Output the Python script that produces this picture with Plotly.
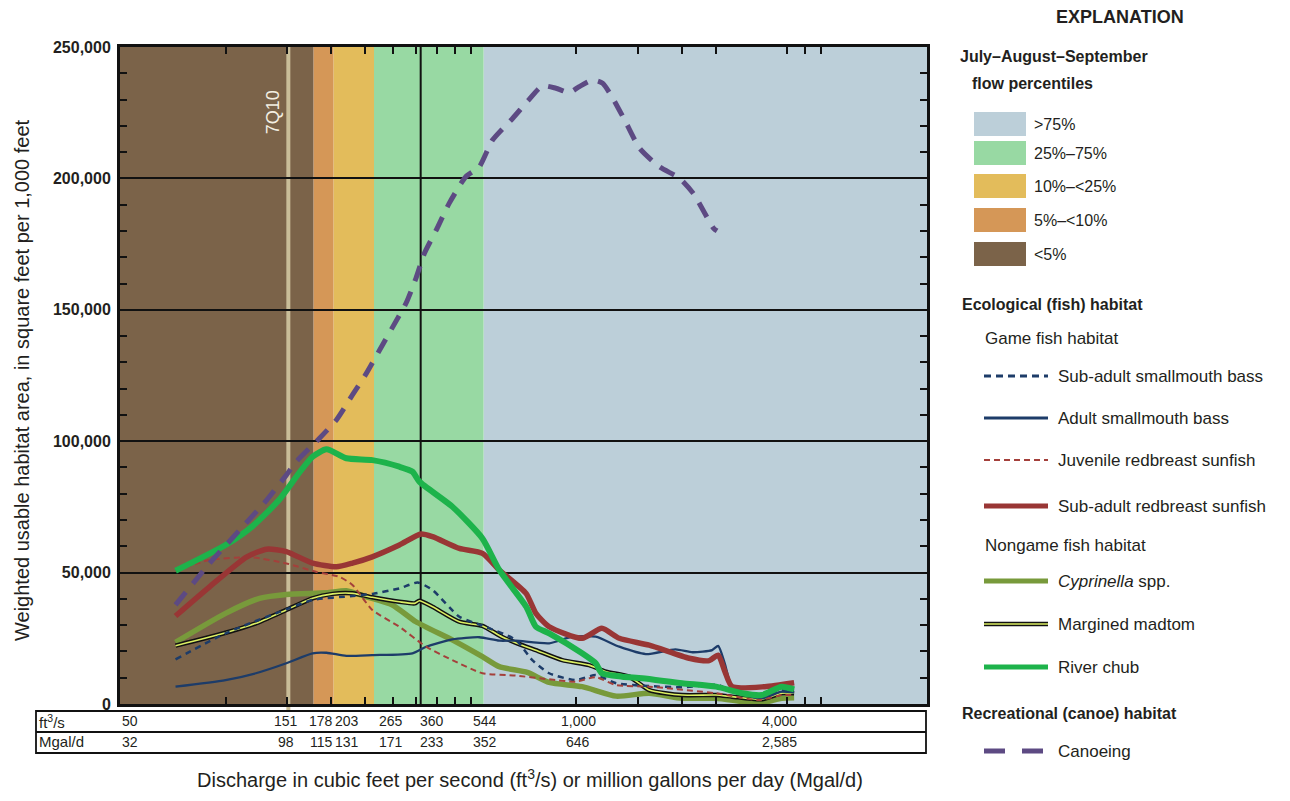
import math
import plotly.graph_objects as go

# ---------------- data ----------------
# flow-percentile bands (discharge, ft3/s)
band_names = [">75%", "25%\u201375%", "10%\u2013<25%", "5%\u2013<10%", "<5%"]
band_lo = [544, 265, 203, 178, 50]
band_hi = [10000, 544, 265, 203, 178]
band_colors = ["#bccfd9", "#98d9a3", "#e3bc5b", "#d59757", "#7b6349"]

q7q10 = 151
q_median_line = 360

table_cfs = [50, 151, 178, 203, 265, 360, 544, 1000, 4000]
table_cfs_lbl = ["50", "151", "178", "203", "265", "360", "544", "1,000", "4,000"]
table_mgd_lbl = ["32", "98", "115", "131", "171", "233", "352", "646", "2,585"]

x_tickvals = [100, 150, 200, 250, 300, 350, 400, 450, 500, 1000, 1500, 2000, 2500, 4000, 4500, 5000]
y_tickvals = [0, 50000, 100000, 150000, 200000, 250000]
y_ticktext = ["0", "50,000", "100,000", "150,000", "200,000", "250,000"]

# habitat series (discharge ft3/s, weighted usable area)
chub_q = [72, 100, 119, 142, 162, 177, 194, 221, 262, 313, 341, 357, 443, 540, 603, 720, 767, 837,
          1039, 1136, 1183, 1352, 1542, 2003, 2505, 2970, 3380, 3850, 4180]
chub_v = [50700, 60500, 67500, 77600, 87900, 94100, 96900, 93500, 92800, 90300, 88400, 84600, 75100,
          63000, 51000, 37000, 29400, 26900, 19300, 15500, 11700, 10400, 9800, 7900, 6600, 4100, 3400,
          6600, 5600]

srb_q = [72, 90, 115, 131, 149, 177, 207, 230, 262, 313, 361, 389, 464, 540, 603, 719, 767, 837,
         1039, 1183, 1326, 1614, 2099, 2393, 2538, 2650, 2780, 3450, 4180]
srb_v = [33500, 44600, 56000, 58900, 58000, 53600, 52200, 53600, 56000, 60500, 64700, 63700, 59200,
         57300, 51000, 42100, 34500, 29400, 25000, 28800, 25000, 22400, 17400, 16500, 18600, 12500,
         6600, 6600, 8100]

asmb_q = [72, 100, 122, 149, 177, 194, 221, 262, 341, 373, 443, 529, 603, 672, 837, 975, 1136, 1326,
          1578, 1917, 2146, 2440, 2538, 2650, 2780, 3380, 3850, 4180]
asmb_v = [6600, 9100, 11700, 15500, 19300, 19500, 18300, 18600, 19300, 21800, 24600, 25400, 24100,
          24100, 23100, 25600, 25600, 21800, 19000, 20800, 19700, 20500, 22100, 15500, 6600, 2200,
          4700, 4300]

ssmb_q = [72, 100, 149, 177, 230, 262, 313, 353, 389, 464, 540, 672, 749, 837, 997, 1136, 1300, 1614,
          2003, 2538, 2780, 3380, 3850, 4180]
ssmb_v = [17000, 26900, 36000, 39600, 41100, 41900, 44000, 46200, 43400, 33200, 29800, 24400, 16700,
          11700, 9100, 11000, 7900, 6800, 6400, 7200, 4700, 2200, 5300, 5300]

jrb_q = [72, 90, 119, 149, 181, 211, 230, 262, 313, 373, 443, 540, 672, 837, 997, 1136, 1300, 1614,
         2500, 3322, 3850, 4180]
jrb_v = [50700, 54800, 55800, 53500, 50300, 48400, 45300, 35800, 29400, 21800, 16700, 11700, 10800,
         9400, 8500, 10200, 7200, 6600, 4100, 1500, 3400, 3400]

cyp_q = [72, 100, 125, 149, 194, 221, 252, 299, 349, 443, 540, 603, 725, 837, 1039, 1300, 1614, 2003,
         2500, 3322, 3850, 4180]
cyp_v = [23500, 34500, 40200, 41700, 42300, 43100, 40800, 37700, 31300, 24400, 18000, 14200, 12000,
         8200, 6600, 3000, 4100, 2200, 2200, 300, 2200, 2400]

mad_q = [72, 100, 122, 149, 177, 202, 230, 262, 313, 346, 357, 389, 464, 540, 615, 719, 767, 912,
         1088, 1215, 1416, 1614, 2003, 2500, 2780, 3380, 3850, 4180]
mad_v = [22200, 27100, 30700, 35800, 40200, 41900, 42100, 40600, 38900, 38300, 39300, 37000, 31300,
         29700, 25500, 21800, 20500, 16700, 14800, 12300, 10400, 5300, 3400, 3400, 2800, 1800, 4100, 4100]

canoe_q = [72, 90, 112, 131, 149, 159, 183, 207, 230, 252, 275, 300, 327, 349, 369, 399, 434, 484, 529,
           577, 659, 731, 800, 875, 956, 1019, 1113, 1189, 1271, 1390, 1517, 1727, 1973, 2156, 2464, 2520]
canoe_v = [37700, 53500, 67500, 77600, 87100, 92200, 100400, 108100, 117600, 125800, 134700, 143600,
           152500, 162000, 171500, 180400, 190500, 200600, 204400, 214600, 222900, 229800, 235200,
           234300, 232700, 234900, 237400, 236200, 230500, 220900, 211400, 204400, 200000, 194300,
           181000, 180000]

# ---------------- styling helpers ----------------
W, H = 1290, 801
L, R, T, B = 120, 927, 47, 704
FONT = "Liberation Sans Narrow, Liberation Sans, Arial, sans-serif"
TXT = "#231f20"


def px(x):
    return (x - L) / (R - L)


def py(y):
    return (B - y) / (B - T)


fig = go.Figure()

series = [
    (cyp_q, cyp_v, dict(color="#789a3b", width=5.5), "Cyprinella spp."),
    (mad_q, mad_v, dict(color="#111111", width=4.5), "Margined madtom"),
    (mad_q, mad_v, dict(color="#dcef63", width=1.6), "Margined madtom"),
    (ssmb_q, ssmb_v, dict(color="#1d3c69", width=2.5, dash="6px,5px"), "Sub-adult smallmouth bass"),
    (asmb_q, asmb_v, dict(color="#1d3c69", width=2.3), "Adult smallmouth bass"),
    (jrb_q, jrb_v, dict(color="#a4403b", width=2, dash="6px,4px"), "Juvenile redbreast sunfish"),
    (srb_q, srb_v, dict(color="#993635", width=5.5), "Sub-adult redbreast sunfish"),
    (chub_q, chub_v, dict(color="#1db34b", width=6), "River chub"),
    (canoe_q, canoe_v, dict(color="#5d4a83", width=5, dash="16px,11px"), "Canoeing"),
]
for q, v, ln, name in series:
    fig.add_trace(go.Scatter(x=q, y=v, mode="lines", line=dict(shape="spline", smoothing=0.6, **ln),
                             name=name, showlegend=False))

shapes = []
# flow percentile bands
for lo, hi, c in zip(band_lo, band_hi, band_colors):
    shapes.append(dict(type="rect", xref="x", yref="paper", x0=lo, x1=hi, y0=0, y1=1,
                       fillcolor=c, line=dict(width=0), layer="below"))
# 7Q10 and 360 lines
shapes.append(dict(type="line", xref="x", yref="paper", x0=q7q10, x1=q7q10, y0=-0.012, y1=1,
                   line=dict(color="#c9bd98", width=4), layer="below"))
shapes.append(dict(type="line", xref="x", yref="paper", x0=q_median_line, x1=q_median_line, y0=0, y1=1,
                   line=dict(color="#111111", width=2), layer="below"))

# table under the axis
shapes.append(dict(type="rect", xref="paper", yref="paper", x0=px(36), x1=px(926), y0=py(753), y1=py(711),
                   line=dict(color="#111111", width=1.8), fillcolor="rgba(0,0,0,0)"))
shapes.append(dict(type="line", xref="paper", yref="paper", x0=px(36), x1=px(926), y0=py(732), y1=py(732),
                   line=dict(color="#111111", width=1.8)))

ann = []
ann.append(dict(text="7Q10", xref="x", yref="paper", x=math.log10(q7q10), y=py(88), xshift=-15,
                textangle=-90, showarrow=False, font=dict(family=FONT, size=18, color="#f3efe2")))
ann.append(dict(text="ft<sup>3</sup>/s", xref="paper", yref="paper", x=px(37), y=py(721), xanchor="left",
                yanchor="middle", showarrow=False, font=dict(family=FONT, size=15, color=TXT)))
ann.append(dict(text="Mgal/d", xref="paper", yref="paper", x=px(37), y=py(742), xanchor="left",
                yanchor="middle", showarrow=False, font=dict(family=FONT, size=15, color=TXT)))
label_shift = [10, -2, 8, 14, 17, 11, 1, 2, -8]
for q, a, b, s in zip(table_cfs, table_cfs_lbl, table_mgd_lbl, label_shift):
    ann.append(dict(text=a, xref="x", yref="paper", x=math.log10(q), y=py(721), xshift=s, showarrow=False,
                    yanchor="middle", font=dict(family=FONT, size=14, color=TXT)))
    ann.append(dict(text=b, xref="x", yref="paper", x=math.log10(q), y=py(742), xshift=s, showarrow=False,
                    yanchor="middle", font=dict(family=FONT, size=14, color=TXT)))

ann.append(dict(text="Discharge in cubic feet per second (ft<sup>3</sup>/s) or million gallons per day (Mgal/d)",
                xref="paper", yref="paper", x=px(530), y=py(778), showarrow=False, yanchor="middle",
                font=dict(family=FONT, size=20, color=TXT)))
ann.append(dict(text="Weighted usable habitat area, in square feet per 1,000 feet", xref="paper", yref="paper",
                x=px(22), y=py(380), textangle=-90, showarrow=False, xanchor="center", yanchor="middle",
                font=dict(family=FONT, size=20, color=TXT)))


# ---------------- explanation (legend) ----------------
def txt(s, x, y, size=17, bold=False, anchor="left"):
    ann.append(dict(text=("<b>%s</b>" % s) if bold else s, xref="paper", yref="paper", x=px(x), y=py(y),
                    xanchor=anchor, yanchor="middle", showarrow=False,
                    font=dict(family=FONT, size=size, color=TXT)))


txt("EXPLANATION", 1120, 17, size=18, bold=True, anchor="center")
txt("July\u2013August\u2013September", 958, 56, size=16, bold=True)
txt("flow percentiles", 970, 83, size=16, bold=True)
sw_y = [124, 153, 186, 220, 254]
for name, c, yy in zip(band_names, band_colors, sw_y):
    shapes.append(dict(type="rect", xref="paper", yref="paper", x0=px(974), x1=px(1026), y0=py(yy + 12),
                       y1=py(yy - 12), fillcolor=c, line=dict(width=0)))
    txt(name, 1032, yy, size=16)

txt("Ecological (fish) habitat", 960, 304, size=16, bold=True)
txt("Game fish habitat", 983, 338)
txt("Nongame fish habitat", 983, 545)
txt("Recreational (canoe) habitat", 960, 713, size=16, bold=True)

leg_items = [
    ("Sub-adult smallmouth bass", 376, [dict(color="#1d3c69", width=3, dash="7px,5px")]),
    ("Adult smallmouth bass", 418, [dict(color="#1d3c69", width=3)]),
    ("Juvenile redbreast sunfish", 460, [dict(color="#a4403b", width=2, dash="6px,4px")]),
    ("Sub-adult redbreast sunfish", 506, [dict(color="#993635", width=5)]),
    ("<i>Cyprinella</i> spp.", 581, [dict(color="#789a3b", width=5)]),
    ("Margined madtom", 624, [dict(color="#111111", width=4.5), dict(color="#dcef63", width=1.6)]),
    ("River chub", 667, [dict(color="#1db34b", width=5)]),
    ("Canoeing", 751, [dict(color="#5d4a83", width=5, dash="21px,17px")]),
]
for name, yy, lines in leg_items:
    for ln in lines:
        shapes.append(dict(type="line", xref="paper", yref="paper", x0=px(984), x1=px(1048), y0=py(yy),
                           y1=py(yy), line=ln))
    txt(name, 1056, yy)

fig.update_layout(
    width=W, height=H,
    margin=dict(l=L, r=W - R, t=T, b=H - B, autoexpand=False),
    paper_bgcolor="white", plot_bgcolor="white",
    shapes=shapes, annotations=ann, showlegend=False,
    font=dict(family=FONT, color=TXT),
)
fig.update_xaxes(type="log", range=[math.log10(50), 4], showgrid=False, zeroline=False,
                 tickvals=x_tickvals, showticklabels=False, ticks="inside", ticklen=7, tickwidth=2,
                 tickcolor="#111111", showline=True, linecolor="#111111", linewidth=3, mirror="ticks")
fig.update_yaxes(range=[0, 250000], tickvals=y_tickvals,
                 ticktext=["<b>%s</b>" % t for t in y_ticktext],
                 showgrid=True, gridcolor="#111111", gridwidth=2, zeroline=False,
                 ticks="inside", ticklen=7, tickwidth=2, tickcolor="#111111",
                 minor=dict(dtick=10000, ticks="inside", ticklen=7, tickwidth=2, tickcolor="#111111",
                            showgrid=False),
                 showline=True, linecolor="#111111", linewidth=3, mirror="ticks",
                 tickfont=dict(family=FONT, size=16, color=TXT), ticklabelstandoff=3)

fig.write_html("out.html")
